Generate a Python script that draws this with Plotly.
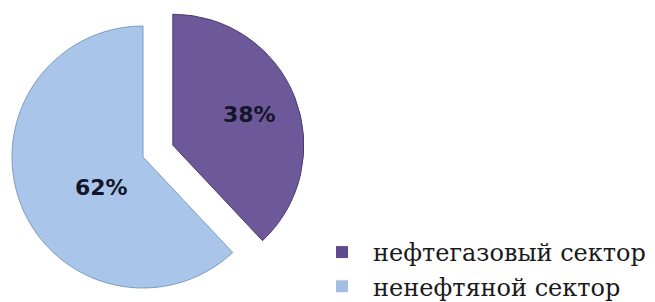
import math
import plotly.graph_objects as go

# ---- data ----
labels = ["нефтегазовый сектор", "ненефтяной сектор"]
values = [38, 62]
pct_text = ["38%", "62%"]

# ---- style ----
fill_colors = ["#6D5999", "#A9C6EA"]
edge_colors = ["#4A3B72", "#7E9CC2"]
legend_colors = ["#5E4A8C", "#A3BEE2"]
TRANSP = "rgba(0,0,0,0)"

W, H = 655, 302
cx, cy, r = 143.0, 157.0, 131.0   # pixel centre / radius of the un-pulled pie
pull = 0.245
label_rho = [0.63, 0.39]          # radial position of the % labels (fraction of r)
label_dang = [0.0, -15.0]         # angular nudge of the % labels (degrees)

total = sum(values)
# slice mid angles (clockwise from 12 o'clock)
mids, acc = [], 0.0
for v in values:
    mids.append((acc + v / 2) / total * 2 * math.pi)
    acc += v

# offset of the pulled (first) slice
dx = pull * r * math.sin(mids[0])
dy = -pull * r * math.cos(mids[0])  # screen y (down)
centers = [(cx + dx, cy + dy), (cx, cy)]


def dom(px, py):
    return dict(x=[(px - r) / W, (px + r) / W],
                y=[(H - py - r) / H, (H - py + r) / H])


fig = go.Figure()

# non-pulled slice
fig.add_trace(go.Pie(
    labels=labels, values=values, sort=False, direction="clockwise", rotation=0,
    marker=dict(colors=[TRANSP, fill_colors[1]],
                line=dict(color=[TRANSP, edge_colors[1]], width=1)),
    textinfo="none", domain=dom(*centers[1]), showlegend=False, hoverinfo="skip",
))
# pulled slice
fig.add_trace(go.Pie(
    labels=labels, values=values, sort=False, direction="clockwise", rotation=0,
    marker=dict(colors=[fill_colors[0], TRANSP],
                line=dict(color=[edge_colors[0], TRANSP], width=1)),
    textinfo="none", domain=dom(*centers[0]), showlegend=False, hoverinfo="skip",
))

# percentage labels
for i, t in enumerate(pct_text):
    a = mids[i] + math.radians(label_dang[i])
    px = centers[i][0] + label_rho[i] * r * math.sin(a)
    py = centers[i][1] - label_rho[i] * r * math.cos(a)
    fig.add_annotation(x=px / W, y=(H - py) / H, xref="paper", yref="paper",
                       text=t, showarrow=False, xanchor="center", yanchor="middle",
                       font=dict(family="DejaVu Sans", size=22, color="#15152a",
                                 weight="bold"))

# legend entries
for i, (lab, col) in enumerate(zip(labels, legend_colors)):
    fig.add_trace(go.Scatter(
        x=[None], y=[None], mode="markers", name=lab, legendgroup=f"g{i}",
        marker=dict(symbol="square", size=13, color=col,
                    line=dict(color="#ffffff", width=1)),
        showlegend=True, hoverinfo="skip",
    ))

fig.update_layout(
    width=W, height=H,
    margin=dict(l=0, r=0, t=0, b=0, autoexpand=False),
    paper_bgcolor="white", plot_bgcolor="white",
    xaxis=dict(visible=False), yaxis=dict(visible=False),
    showlegend=True,
    legend=dict(x=311 / W, xanchor="left", y=-7 / H, yanchor="bottom",
                font=dict(family="DejaVu Serif", size=24, color="#1a1a1a"),
                bgcolor="rgba(0,0,0,0)", itemwidth=52,
                tracegroupgap=0),
)

fig.write_html("out.html", config={"displayModeBar": False},
               post_script="document.body.style.margin='0px';")
